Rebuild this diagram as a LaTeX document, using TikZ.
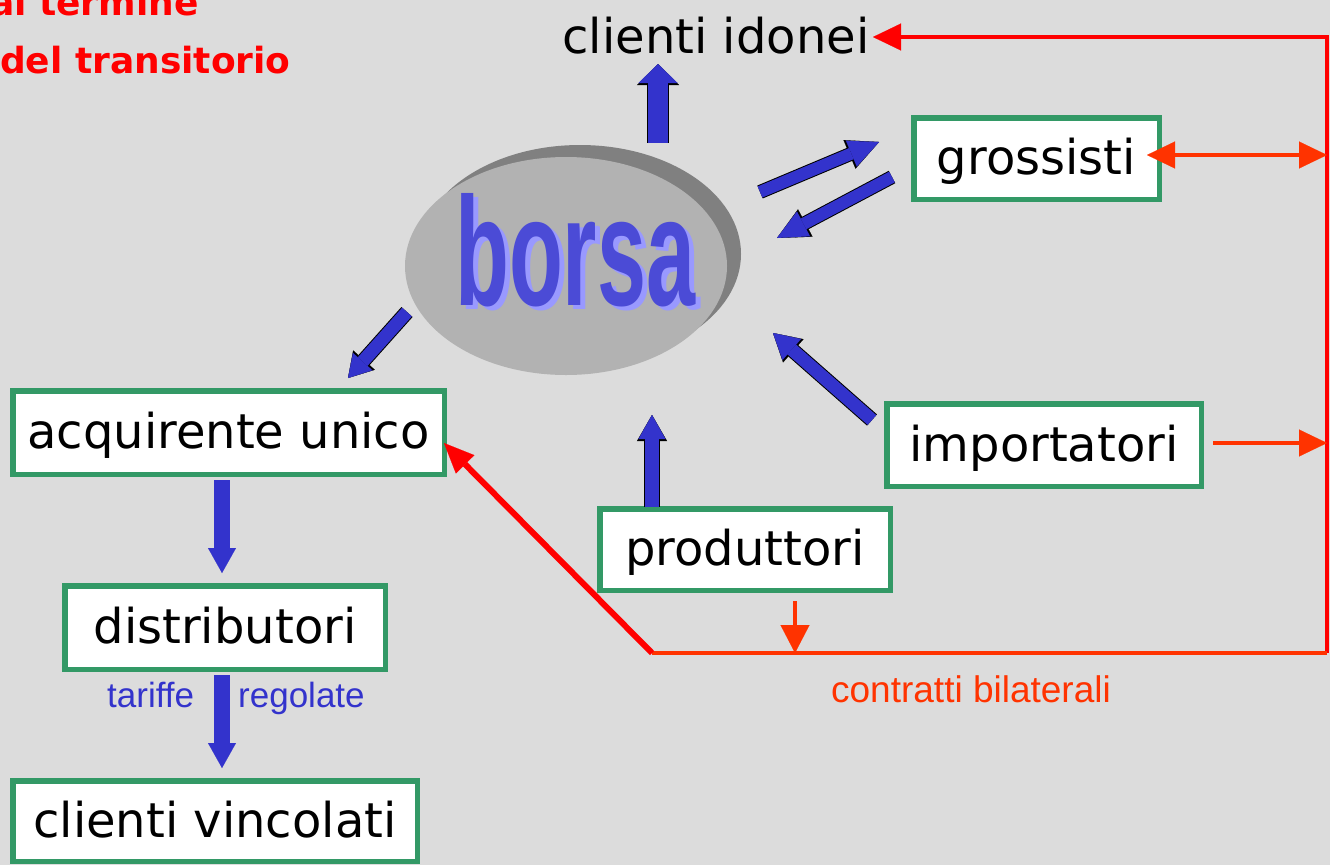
\documentclass[tikz,border=0pt]{standalone}
\usepackage{fontspec}
\usepackage{graphicx}
\setmainfont{DejaVu Sans}
\newfontfamily\arialf{Liberation Sans}
\usetikzlibrary{arrows.meta,calc,shapes.geometric}
\definecolor{bg}{HTML}{DCDCDC}
\definecolor{boxgreen}{HTML}{339966}
\definecolor{aBlue}{HTML}{3333CC}
\definecolor{lineRed}{HTML}{FF0000}
\definecolor{lineOrange}{HTML}{FF3300}
\definecolor{ellMain}{HTML}{B2B2B2}
\definecolor{ellShade}{HTML}{808080}
\definecolor{borsaBlue}{HTML}{4B4BD6}
\definecolor{borsaShadow}{HTML}{9999FF}
\begin{document}
\begin{tikzpicture}[x=1pt,y=-1pt,
  box/.style={draw=boxgreen,line width=5.5pt,fill=white,inner sep=0pt,
    text height=40pt,text depth=8pt,font=\fontsize{48}{56}\selectfont},
  barrow/.style n args={6}{preaction={draw=black,line width=#2pt,
      -{Triangle[length=#6pt,width=#4pt,line width=0.1pt]}},
    draw=aBlue,line width=#1pt,-{Triangle[length=#5pt,width=#3pt,line width=0.1pt]}},
  parrow/.style n args={3}{draw=aBlue,line width=#1pt,
    -{Triangle[length=#3pt,width=#2pt,line width=0.1pt]}},
  redline/.style={draw=lineRed,line width=4.5pt,line join=miter},
  orangeline/.style={draw=lineOrange,line width=4pt},
  titlefont/.style={font=\fontsize{36}{42}\selectfont\bfseries,text=lineRed,inner sep=0pt,anchor=base west},
  bluelabel/.style={font=\arialf\fontsize{35}{40}\selectfont,text=aBlue,inner sep=0pt,anchor=base west}
]
\fill[bg] (0,0) rectangle (1330,865);
\useasboundingbox (0,0) rectangle (1330,865);

% title
\node[titlefont] (t1) at (-10,15) {al termine};
\node[titlefont] (t2) at (0,73) {del transitorio};

% borsa
\node[ellipse,fill=ellShade,minimum width=322pt,minimum height=218pt,inner sep=0pt] (borsaShade) at (580,254) {};
\node[ellipse,fill=ellMain,minimum width=322pt,minimum height=218pt,inner sep=0pt] (borsa) at (566,266) {};
\node[anchor=base west,inner sep=0pt,text=borsaShadow] (borsaTxtS) at (460,309)
  {\resizebox{240pt}{112pt}{\arialf\bfseries borsa}};
\node[anchor=base west,inner sep=0pt,text=borsaBlue] (borsaTxt) at (455,305)
  {\resizebox{240pt}{112pt}{\arialf\bfseries borsa}};

% nodes
\node[inner sep=0pt,anchor=base,font=\fontsize{48}{56}\selectfont] (idonei) at (716,53) {clienti idonei};
\node[box,minimum width=245.5pt,minimum height=81.5pt] (gross) at (1036.5,158.5) {grossisti};
\node[box,minimum width=314.5pt,minimum height=82.5pt] (imp) at (1044,445) {importatori};
\node[box,minimum width=290.5pt,minimum height=81.5pt] (prod) at (745,549.5) {produttori};
\node[box,minimum width=431.5pt,minimum height=83.5pt] (acq) at (228.5,432.5) {acquirente unico};
\node[box,minimum width=320.5pt,minimum height=83.5pt] (distr) at (225,627.5) {distributori};
\node[box,minimum width=404.5pt,minimum height=80.5pt] (vinc) at (215,821) {clienti vincolati};

\node[bluelabel] (tar) at (107,707) {tariffe};
\node[bluelabel] (reg) at (238,707) {regolate};
\node[inner sep=0pt,anchor=base,font=\arialf\fontsize{37}{44}\selectfont,text=lineOrange] (contr) at (971,702) {contratti bilaterali};

% coordinates for connector ends
\coordinate (idTail) at (658,143);
\coordinate (idHead) at (658,64);
\coordinate (bgTail) at (760,192);
\coordinate (bgHead) at (879,142);
\coordinate (gbTail) at (892,177);
\coordinate (gbHead) at (777,238);
\coordinate (baTail) at (407,312);
\coordinate (baHead) at (348,378);
\coordinate (ibTail) at (872,420);
\coordinate (ibHead) at (773,333);
\coordinate (pbTail) at (652,507);
\coordinate (pbHead) at (652,415);
\coordinate (adTail) at (222,480);
\coordinate (adHead) at (222,573);
\coordinate (dvTail) at (222,675);
\coordinate (dvHead) at (222,768);

\coordinate (busTR) at (1327,37);
\coordinate (busBR) at (1327,653);
\coordinate (busBL) at (652,653);
\coordinate (idTip) at (873,37);
\coordinate (acqTip) at (444,443);
\coordinate (grTip) at (1147,155);
\coordinate (grBus) at (1327,155);
\coordinate (imTail) at (1213,443);
\coordinate (imBus) at (1327,443);
\coordinate (prTail) at (795,601);
\coordinate (prBus) at (795,653);

% blue arrows
\draw[barrow={20}{22}{39}{42}{19}{21}] (idTail) -- (idHead);
\draw[barrow={12}{14}{28}{31}{30}{32}] (bgTail) -- (bgHead);
\draw[barrow={12}{14}{28}{31}{30}{32}] (gbTail) -- (gbHead);
\draw[barrow={13}{15}{26}{29}{22}{24}] (baTail) -- (baHead);
\draw[barrow={13}{15}{28}{31}{25}{27}] (ibTail) -- (ibHead);
\draw[barrow={14}{16}{27}{30}{24}{26}] (pbTail) -- (pbHead);
\draw[parrow={16}{28}{25}] (adTail) -- (adHead);
\draw[parrow={16}{28}{25}] (dvTail) -- (dvHead);

% red / orange lines
\draw[redline,{Triangle[length=28pt,width=27pt,line width=0.1pt]}-] (idTip) -- (busTR) -- (busBR);
\draw[orangeline] (busBR) -- (busBL);
\draw[draw=lineRed,line width=6pt,-{Triangle[length=30pt,width=26pt,line width=0.1pt]}] (busBL) -- (acqTip);
\draw[orangeline,{Triangle[length=28pt,width=27pt,line width=0.1pt]}-{Triangle[length=28pt,width=27pt,line width=0.1pt]}] (grTip) -- (grBus);
\draw[orangeline,-{Triangle[length=28pt,width=27pt,line width=0.1pt]}] (imTail) -- (imBus);
\draw[orangeline,-{Triangle[length=28pt,width=29pt,line width=0.1pt]}] (prTail) -- (prBus);
\end{tikzpicture}
\end{document}
